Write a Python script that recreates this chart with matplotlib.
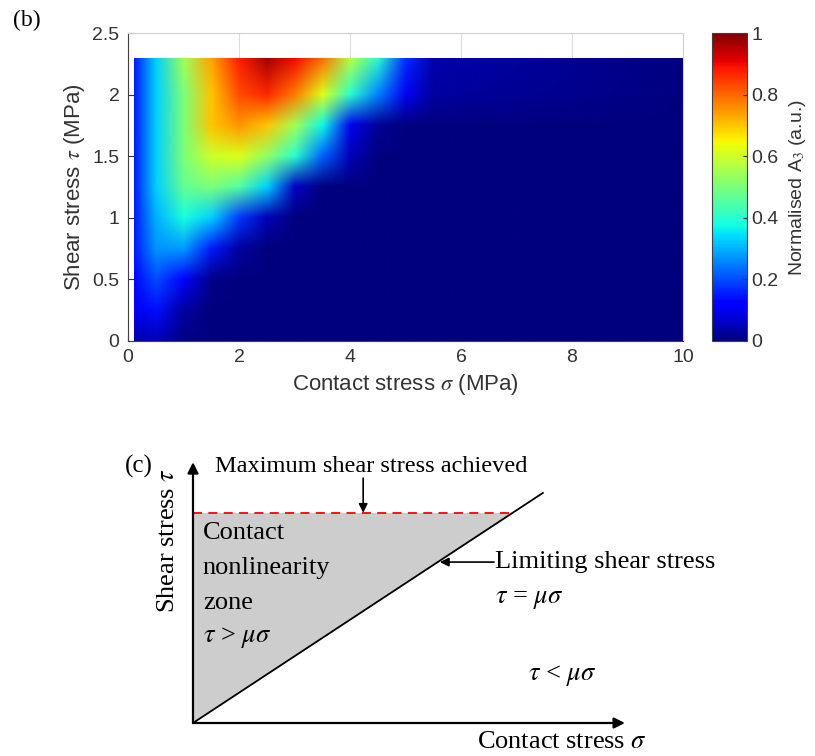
import numpy as np
import matplotlib
matplotlib.use("Agg")
import matplotlib.pyplot as plt
from matplotlib.image import NonUniformImage
from matplotlib.patches import Rectangle
from matplotlib.ticker import FormatStrFormatter

plt.rcParams["mathtext.fontset"] = "stix"

# ---- panel (b): normalised A3 map ----
sigma = [0.1, 0.5, 1.0, 1.5, 2.0, 2.5, 3.0, 3.5, 4.0, 4.5, 5.0, 5.5, 10.0]   # MPa
tau = [0.0, 0.25, 0.5, 0.75, 1.0, 1.25, 1.5, 1.75, 2.0, 2.3]                   # MPa
a3_norm = [
    [0.04, 0.05, 0.01, 0.00, 0.00, 0.00, 0.00, 0.00, 0.00, 0.00, 0.00, 0.00, 0.0],
    [0.10, 0.14, 0.03, 0.00, 0.00, 0.00, 0.00, 0.00, 0.00, 0.00, 0.00, 0.00, 0.0],
    [0.13, 0.20, 0.12, 0.01, 0.00, 0.00, 0.00, 0.00, 0.00, 0.00, 0.00, 0.00, 0.0],
    [0.15, 0.27, 0.28, 0.15, 0.03, 0.00, 0.00, 0.00, 0.00, 0.00, 0.00, 0.00, 0.0],
    [0.15, 0.30, 0.38, 0.33, 0.18, 0.05, 0.00, 0.00, 0.00, 0.00, 0.00, 0.00, 0.0],
    [0.15, 0.33, 0.47, 0.50, 0.45, 0.33, 0.06, 0.00, 0.00, 0.00, 0.00, 0.00, 0.0],
    [0.15, 0.33, 0.50, 0.60, 0.62, 0.53, 0.40, 0.22, 0.05, 0.00, 0.00, 0.00, 0.0],
    [0.15, 0.33, 0.50, 0.70, 0.75, 0.70, 0.55, 0.37, 0.10, 0.02, 0.00, 0.00, 0.0],
    [0.15, 0.33, 0.50, 0.70, 0.83, 0.87, 0.78, 0.62, 0.40, 0.25, 0.10, 0.03, 0.0],
    [0.15, 0.33, 0.55, 0.74, 0.88, 0.97, 0.90, 0.80, 0.58, 0.40, 0.17, 0.04, 0.0],
]
x_ticks = [0, 2, 4, 6, 8, 10]
y_ticks = [0, 0.5, 1, 1.5, 2, 2.5]
cb_ticks = [0, 0.2, 0.4, 0.6, 0.8, 1]
cb_ticklabels = ["0", "0.2", "0.4", "0.6", "0.8", "1"]

# ---- panel (c): schematic (axis fraction units) ----
TAU_MAX = 0.806        # maximum shear stress achieved
MU = 1.089             # slope of limiting shear stress line
SIGMA_LINE_END = 0.81  # where the drawn friction line stops

SANS = "Liberation Sans"
SERIF = "Liberation Serif"
GREY_TXT = "#333333"

fig = plt.figure(figsize=(8.15, 7.56), dpi=100)

# ---------------- (b) ----------------
ax = fig.add_axes([0.157, 0.549, 0.681, 0.407])
im = NonUniformImage(ax, interpolation="bilinear", cmap="jet",
                     extent=(sigma[0], sigma[-1], tau[0], tau[-1]), zorder=1)
im.set_data(np.array(sigma), np.array(tau), np.array(a3_norm))
im.set_clim(0, 1)
ax.add_image(im)
# the image fills the whole view, so clip it to the measured range
data_box = Rectangle((sigma[0], tau[0]), sigma[-1] - sigma[0], tau[-1] - tau[0],
                     transform=ax.transData, facecolor="none")
im.set_clip_path(data_box)
ax.set_xlim(0, 10)
ax.set_ylim(0, 2.5)
ax.set_xticks(x_ticks)
ax.set_yticks(y_ticks)
ax.yaxis.set_major_formatter(FormatStrFormatter("%g"))
ax.set_axisbelow(True)
ax.grid(True, color="#dcdcdc", lw=0.8)
ax.tick_params(direction="in", length=4, labelsize=14, colors=GREY_TXT, pad=6)
for lbl in ax.get_xticklabels() + ax.get_yticklabels():
    lbl.set_family(SANS)
for s in ["left", "bottom"]:
    ax.spines[s].set_color("#404040")
for s in ["top", "right"]:
    ax.spines[s].set_color("#d0d0d0")
ax.set_xlabel(r"Contact stress $\sigma$ (MPa)", fontsize=16, family=SANS, color=GREY_TXT, labelpad=4)
ax.set_ylabel(r"Shear stress $\tau$ (MPa)", fontsize=16, family=SANS, color=GREY_TXT, labelpad=4)
fig.text(0.016, 0.973, "(b)", fontsize=17, family=SERIF, va="center")

cax = fig.add_axes([0.8736, 0.549, 0.043, 0.407])
cb = fig.colorbar(im, cax=cax)
cb.set_ticks(cb_ticks)
cb.set_ticklabels(cb_ticklabels)
cb.ax.tick_params(direction="in", length=3, labelsize=14, colors=GREY_TXT, pad=3)
for lbl in cb.ax.get_yticklabels():
    lbl.set_family(SANS)
cb.outline.set_edgecolor("#404040")
cb.set_label(r"Normalised A$_3$ (a.u.)", fontsize=14, family=SANS, color=GREY_TXT, labelpad=6)

# ---------------- (c) ----------------
ax2 = fig.add_axes([0.2368, 0.04365, 0.530, 0.345])
ax2.set_xlim(0, 1)
ax2.set_ylim(0, 1)
ax2.axis("off")

sig_cross = TAU_MAX / MU
ax2.fill([0, 0, sig_cross], [0, TAU_MAX, TAU_MAX], color="#cdcdcd", lw=0)
ax2.plot([0, SIGMA_LINE_END], [0, MU * SIGMA_LINE_END], color="black", lw=1.3)
ax2.plot([0, sig_cross], [TAU_MAX, TAU_MAX], color="red", lw=1.3, ls=(0, (5, 3.5)))

arrow_axis = dict(arrowstyle="-|>", color="black", lw=1.6, mutation_scale=16, shrinkA=0, shrinkB=0)
ax2.annotate("", xy=(0, 1.0), xytext=(0, 0), arrowprops=arrow_axis, annotation_clip=False)
ax2.annotate("", xy=(1.0, 0), xytext=(0, 0), arrowprops=arrow_axis, annotation_clip=False)

arrow_note = dict(arrowstyle="-|>", color="black", lw=1.2, mutation_scale=13, shrinkA=0, shrinkB=0)
ax2.annotate("", xy=(0.394, TAU_MAX), xytext=(0.394, 0.939), arrowprops=arrow_note)
lim_y = 0.617
ax2.annotate("", xy=(lim_y / MU + 0.005, lim_y), xytext=(0.697, lim_y), arrowprops=arrow_note)

tf = dict(family=SERIF, fontsize=19, color="black")
ax2.text(0.051, 0.985, "Maximum shear stress achieved", ha="left", va="center",
         family=SERIF, fontsize=17.6, color="black")
ax2.text(-0.157, 0.985, "(c)", ha="left", va="center", family=SERIF, fontsize=18, color="black")
ax2.text(-0.058, 0.70, r"Shear stress $\tau$", rotation=90, ha="center", va="center", **tf)
ax2.text(0.657, -0.073, r"Contact stress $\sigma$", ha="left", va="center", **tf)
ax2.text(0.699, lim_y, "Limiting shear stress", ha="left", va="center", **tf)
ax2.text(0.699, 0.471, r"$\tau$ = $\mu\sigma$", ha="left", va="center", **tf)
ax2.text(0.775, 0.184, r"$\tau$ < $\mu\sigma$", ha="left", va="center", **tf)
zone_lines = ["Contact", "nonlinearity", "zone", r"$\tau$ > $\mu\sigma$"]
for i, line in enumerate(zone_lines):
    ax2.text(0.023, 0.728 - i * 0.134, line, ha="left", va="center", **tf)

fig.savefig("out.png", dpi=100)
